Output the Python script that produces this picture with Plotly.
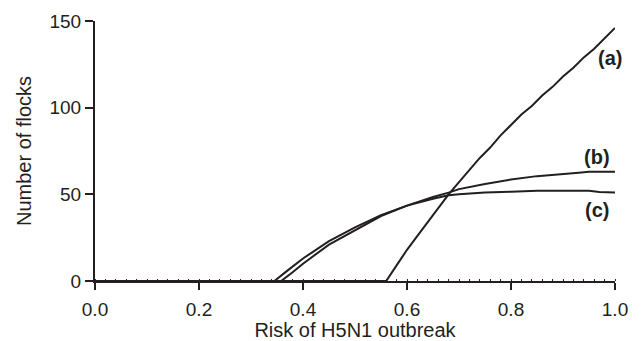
import plotly.graph_objects as go

# Curve (a)
xa = [0.0, 0.56, 0.58, 0.60, 0.62, 0.64, 0.66, 0.68, 0.70, 0.72, 0.74, 0.76, 0.78, 0.80,
      0.82, 0.84, 0.86, 0.88, 0.90, 0.92, 0.94, 0.96, 0.98, 1.00]
ya = [0, 0, 9, 18, 26, 34, 42, 50, 57, 64, 71, 77, 84, 90,
      96, 101, 107, 112, 118, 123, 129, 134, 140, 146]

# Curve (b)
xb = [0.0, 0.358, 0.38, 0.40, 0.45, 0.50, 0.55, 0.60, 0.65, 0.68, 0.70, 0.75, 0.80,
      0.85, 0.90, 0.93, 0.95, 1.00]
yb = [0, 0, 5, 10, 21, 29.5, 37.5, 43.5, 48.5, 51, 53, 56, 58.5, 60.5, 62, 62.5, 63, 63]

# Curve (c)
xc = [0.0, 0.345, 0.37, 0.40, 0.45, 0.50, 0.55, 0.60, 0.65, 0.68, 0.70, 0.75, 0.80,
      0.85, 0.90, 0.95, 0.97, 1.00]
yc = [0, 0, 6, 13, 23, 31, 38, 43.5, 47.5, 49.5, 50, 51, 51.5, 52, 52, 52, 51.3, 51]

labels = ["(a)", "(b)", "(c)"]
label_x = [0.99, 0.965, 0.965]
label_y = [128.5, 71.5, 41]

ink = "#231f20"
FONT = "Liberation Sans, Arial, Helvetica, sans-serif"
fig = go.Figure()
for x, y in [(xa, ya), (xb, yb), (xc, yc)]:
    fig.add_trace(go.Scatter(x=x, y=y, mode="lines",
                             line=dict(color=ink, width=2), showlegend=False,
                             hoverinfo="skip"))

for t, lx, ly in zip(labels, label_x, label_y):
    fig.add_annotation(x=lx, y=ly, text="<b>%s</b>" % t, showarrow=False,
                       xanchor="center", yanchor="middle",
                       font=dict(size=20, color=ink, family=FONT))

# page body has an 8px margin: compensate so the plot area lands where the reference has it
fig.update_layout(
    width=633, height=333,
    margin=dict(l=87, r=26, t=13, b=60),
    plot_bgcolor="white", paper_bgcolor="white",
    font=dict(family=FONT, size=19, color=ink),
)
fig.update_xaxes(
    range=[0, 1], tickvals=[0, 0.2, 0.4, 0.6, 0.8, 1.0],
    ticktext=["0.0", "0.2", "0.4", "0.6", "0.8", "1.0"],
    showline=True, linecolor=ink, linewidth=2,
    ticks="outside", ticklen=7, tickwidth=2, tickcolor=ink,
    showgrid=False, zeroline=False, automargin=False,
    ticklabelstandoff=3,
    minor=dict(ticks="inside", dtick=0.02, ticklen=2, tickwidth=1, tickcolor=ink),
    tickfont=dict(size=19),
    title=dict(text="Risk of H5N1 outbreak", font=dict(size=20), standoff=4),
)
fig.update_yaxes(
    range=[0, 150], tickvals=[0, 50, 100, 150],
    showline=True, linecolor=ink, linewidth=2,
    ticks="outside", ticklen=8, tickwidth=2, tickcolor=ink,
    showgrid=False, zeroline=False, automargin=False,
    tickfont=dict(size=19),
    title=dict(text="Number of flocks", font=dict(size=20), standoff=12),
)

fig.write_html("out.html")
